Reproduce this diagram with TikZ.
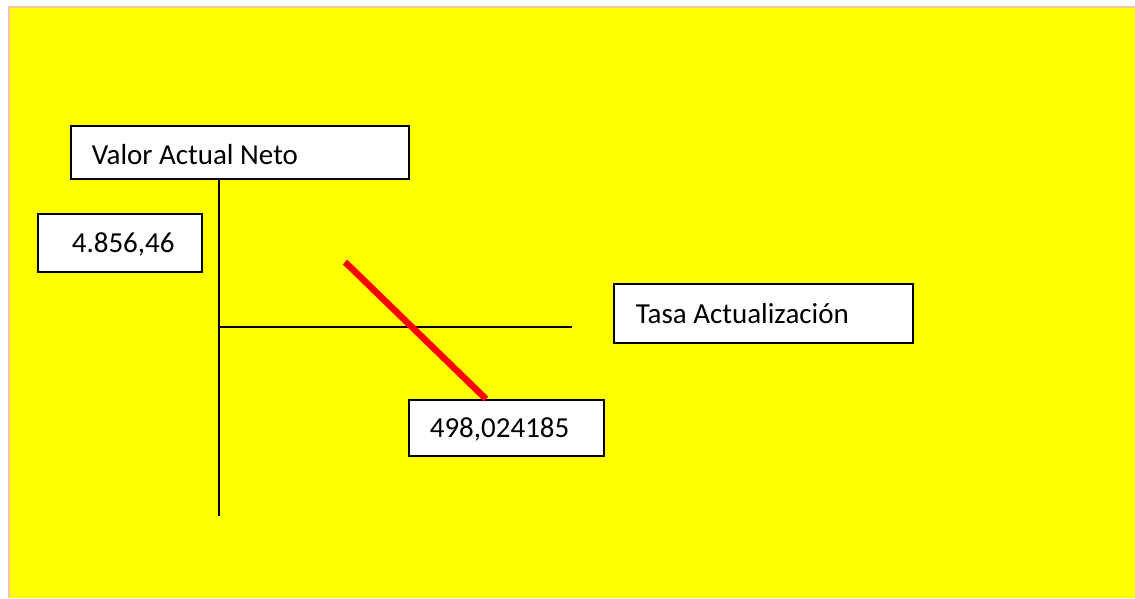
\documentclass[tikz,border=0pt]{standalone}
\usepackage{fontspec}
\setmainfont{Carlito}
\definecolor{bgyellow}{RGB}{255,255,0}
\definecolor{edgepeach}{RGB}{246,196,164}
\definecolor{slashred}{RGB}{255,0,0}
\newcommand{\boxtext}[3]{\makebox[#1][l]{\hspace*{#2}#3}}
\begin{document}
\begin{tikzpicture}[x=1pt,y=-1pt,
  valbox/.style={draw=black, fill=white, line width=1.6pt, anchor=north west,
    inner xsep=0pt, inner ysep=0pt,
    text height=20pt, text depth=0pt,
    font=\fontsize{29}{34}\selectfont},
  axisline/.style={draw=black, line width=1.6pt},
  slash/.style={draw=slashred, line width=6.5pt}]
\useasboundingbox (0,0) rectangle (1135,598);
% background
\fill[bgyellow] (9,7) rectangle (1135,598);
\draw[edgepeach, line width=2pt] (8.5,598) -- (8.5,6.5) -- (1135,6.5);
% boxes
\node[valbox, minimum height=53pt, text height=24pt] (van) at (70,125) {\boxtext{338pt}{21pt}{Valor Actual Neto}};
\node[valbox, minimum height=58pt] (num1) at (37,213) {\boxtext{164pt}{34pt}{4.856,46}};
\node[valbox, minimum height=59pt] (tasa) at (613,283) {\boxtext{299pt}{22pt}{Tasa Actualización}};
\node[valbox, minimum height=56pt] (num2) at (408,399) {\boxtext{195pt}{21pt}{498,024185}};
% axes
\coordinate (vbot) at (219,516);
\coordinate (hleft) at (219,327);
\coordinate (hright) at (572,327);
\draw[axisline] (vbot |- van.south) -- (vbot);
\draw[axisline] (hleft) -- (hright);
% red slash
\coordinate (rtop) at (345,262);
\coordinate (rend) at (486,398);
\draw[slash] (rtop) -- (rend |- num2.north);
\end{tikzpicture}
\end{document}
